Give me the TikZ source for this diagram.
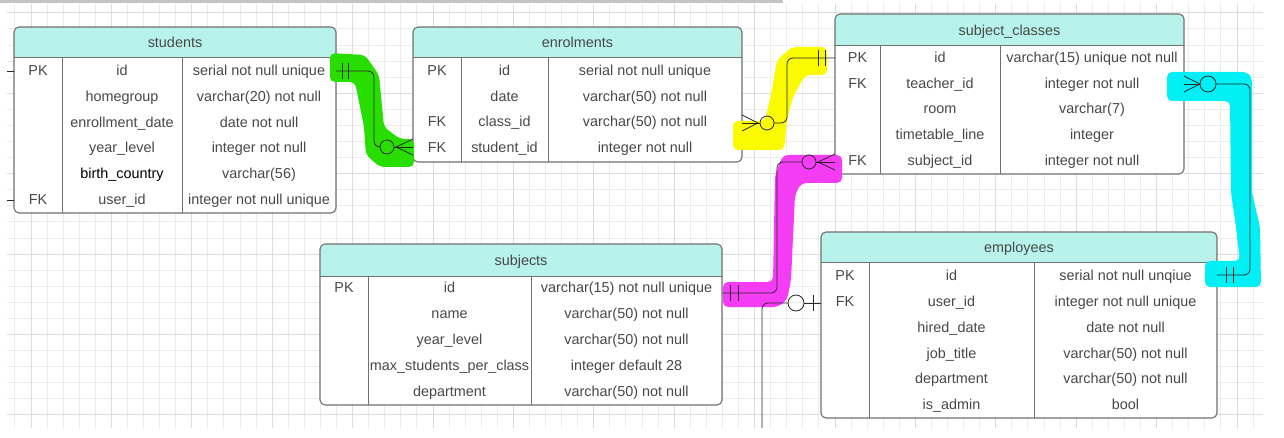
\documentclass[tikz,border=0pt]{standalone}
\usepackage{fontspec}
\setmainfont{Liberation Sans}
\definecolor{hdr}{RGB}{183,243,235}
\definecolor{bord}{RGB}{112,112,112}
\definecolor{txt}{RGB}{72,72,72}
\definecolor{gmin}{RGB}{236,236,236}
\definecolor{gmaj}{RGB}{220,220,220}
\definecolor{hlgreen}{RGB}{40,222,0}
\definecolor{hlyellow}{RGB}{250,250,0}
\definecolor{hlmag}{RGB}{245,60,245}
\definecolor{hlcyan}{RGB}{0,240,245}
\definecolor{conn}{RGB}{40,40,40}
\definecolor{topbar}{RGB}{196,196,196}
\tikzset{
  tbl/.style={draw=none, fill=white, inner sep=0pt, outer sep=0pt, anchor=north west},
  border/.style={draw=bord, line width=1.1pt, rounded corners=5pt},
  divider/.style={draw=bord, line width=1pt},
  cell/.style={inner sep=0pt, text height=10.3pt, text depth=0pt, text=txt, font=\fontsize{14.4}{17}\selectfont},
  link/.style={draw=conn, line width=0.8pt, rounded corners=6pt},
  tickmark/.style={draw=conn, line width=0.8pt},
  ring/.style={draw=conn, line width=0.8pt},
  hl/.style={rounded corners=5pt},
  gridminor/.style={draw=gmin, line width=0.8pt},
  gridmajor/.style={draw=gmaj, line width=0.8pt}
}
% #1 name, #2 left, #3 top, #4 right, #5 header bottom, #6 bottom, #7 col1, #8 col2, #9 title
\newcommand\ertable[9]{%
  \node[tbl, minimum width={(#4-#2)*1pt}, minimum height={(#6-#3)*1pt}] (#1) at (#2,#3) {};
  \begin{scope}
    \clip[rounded corners=5pt] (#2,#3) rectangle (#4,#6);
    \fill[hdr] (#2,#3) rectangle (#4,#5);
  \end{scope}
  \draw[divider] (#2,#5) -- (#4,#5);
  \draw[divider] (#7,#5) -- (#7,#6);
  \draw[divider] (#8,#5) -- (#8,#6);
  \draw[border] (#2,#3) rectangle (#4,#6);
  \node[cell] (#1-title) at ({(#2+#4)/2},{(#3+#5)/2}) {#9};
}
% #1 prefix, #2 key x, #3 name x, #4 type x, #5 y, #6 key, #7 name, #8 type
\newcommand\errow[8]{%
  \node[cell] (#1k) at (#2,#5) {#6};
  \node[cell] (#1n) at (#3,#5) {#7};
  \node[cell] (#1t) at (#4,#5) {#8};
}
\begin{document}
\begin{tikzpicture}[x=1pt,y=-1pt]
\useasboundingbox (0,0) rectangle (1284,438);
\fill[white] (0,0) rectangle (1284,438);
% grid
\begin{scope}
  \clip (7,4) rectangle (1263,428);
  \foreach \k in {-6,...,72} \draw[gridminor] ({111.3+16.08*\k},4) -- ({111.3+16.08*\k},428);
  \foreach \k in {-15,...,11} \draw[gridminor] (7,{254+16.08*\k}) -- (1263,{254+16.08*\k});
  \foreach \k in {-1,...,14} \draw[gridmajor] ({111.3+80.4*\k},4) -- ({111.3+80.4*\k},428);
  \foreach \k in {-3,...,2} \draw[gridmajor] (7,{254+80.4*\k}) -- (1263,{254+80.4*\k});
\end{scope}
\fill[topbar] (0,0) rectangle (783,3);

% tables
\ertable{students}{14}{27}{336}{58}{213}{62}{182}{students}
\errow{st1}{38}{122}{259}{70}{PK}{id}{serial not null unique}
\errow{st2}{38}{122}{259}{96.5}{}{homegroup}{varchar(20) not null}
\errow{st3}{38}{122}{259}{122}{}{enrollment\_date}{date not null}
\errow{st4}{38}{122}{259}{147.5}{}{year\_level}{integer not null}
\errow{st5}{38}{122}{259}{173}{}{\textcolor{black}{birth\_country}}{varchar(56)}
\errow{st6}{38}{122}{259}{199}{FK}{user\_id}{integer not null unique}

\ertable{enrolments}{413}{27}{742}{58}{162}{461}{548}{enrolments}
\errow{en1}{437}{504.5}{645}{70}{PK}{id}{serial not null unique}
\errow{en2}{437}{504.5}{645}{96}{}{date}{varchar(50) not null}
\errow{en3}{437}{504.5}{645}{121.5}{FK}{class\_id}{varchar(50) not null}
\errow{en4}{437}{504.5}{645}{147}{FK}{student\_id}{integer not null}

\ertable{subjclasses}{835}{14}{1184}{46}{174}{880}{1000}{subject\_classes}
\errow{sc1}{857.5}{940}{1092}{57}{PK}{id}{varchar(15) unique not null}
\errow{sc2}{857.5}{940}{1092}{83}{FK}{teacher\_id}{integer not null}
\errow{sc3}{857.5}{940}{1092}{108.5}{}{room}{varchar(7)}
\errow{sc4}{857.5}{940}{1092}{134}{}{timetable\_line}{integer}
\errow{sc5}{857.5}{940}{1092}{160}{FK}{subject\_id}{integer not null}

\ertable{subjects}{320}{244}{722}{276}{405}{368}{531}{subjects}
\errow{sj1}{344}{449.5}{626.5}{287}{PK}{id}{varchar(15) not null unique}
\errow{sj2}{344}{449.5}{626.5}{313}{}{name}{varchar(50) not null}
\errow{sj3}{344}{449.5}{626.5}{339}{}{year\_level}{varchar(50) not null}
\errow{sj4}{344}{449.5}{626.5}{365}{}{max\_students\_per\_class}{integer default 28}
\errow{sj5}{344}{449.5}{626.5}{391}{}{department}{varchar(50) not null}

\ertable{employees}{821}{232}{1217}{263}{418}{869}{1034}{employees}
\errow{em1}{845}{951.5}{1125.5}{275}{PK}{id}{serial not null unqiue}
\errow{em2}{845}{951.5}{1125.5}{301}{FK}{user\_id}{integer not null unique}
\errow{em3}{845}{951.5}{1125.5}{327}{}{hired\_date}{date not null}
\errow{em4}{845}{951.5}{1125.5}{353}{}{job\_title}{varchar(50) not null}
\errow{em5}{845}{951.5}{1125.5}{378.5}{}{department}{varchar(50) not null}
\errow{em6}{845}{951.5}{1125.5}{404}{}{is\_admin}{bool}

% highlighter strokes
\fill[hlgreen, hl] (330,53) -- (365,55) -- (379,75) -- (384,127) -- (400,139) -- (414,139)
  -- (414,167) -- (380,167) -- (366,155) -- (364,127) -- (355,82) -- (330,82) -- cycle;
\fill[hlyellow, hl] (733,121) -- (765,121) -- (771,95) -- (777,60) -- (792,47) -- (827,47)
  -- (827,75) -- (805,75) -- (793,97) -- (787,120) -- (784,150) -- (733,150) -- cycle;
\fill[hlmag, hl] (723,282) -- (773,282) -- (775,175) -- (783,155) -- (842,155) -- (842,183)
  -- (801,183) -- (795,195) -- (791,280) -- (787,300) -- (778,307) -- (723,307) -- cycle;
\fill[hlcyan, hl] (1167,72) -- (1247,72) -- (1252,78) -- (1252,193) -- (1260,227) -- (1261,287)
  -- (1205,287) -- (1205,261) -- (1240,261) -- (1236,227) -- (1231,193) -- (1230,101) -- (1167,101) -- cycle;

% connector: students.id -> enrolments.student_id
\draw[link] (students.east |- 0,71) -- (374,71) -- (374,147) -- (380,147);
\draw[tickmark] (342,63) -- (342,79);
\draw[tickmark] (348,63) -- (348,79);
\draw[ring] (387,147) circle[radius=7];
\draw[tickmark] (394,147) -- (enrolments.west |- 0,147);
\draw[tickmark] (396,147) -- (enrolments.west |- 0,139);
\draw[tickmark] (396,147) -- (enrolments.west |- 0,155);

% connector: enrolments.class_id -> subject_classes.id
\draw[tickmark] (enrolments.east |- 0,123) -- (760,123);
\draw[tickmark] (enrolments.east |- 0,115) -- (758,123);
\draw[tickmark] (enrolments.east |- 0,131) -- (758,123);
\draw[ring] (767,123) circle[radius=7];
\draw[link] (774,123) -- (787,123) -- (787,58) -- (subjclasses.west |- 0,58);
\draw[tickmark] (818,50) -- (818,66);
\draw[tickmark] (825,50) -- (825,66);

% connector: subjects.id -> subject_classes.subject_id
\draw[link] (subjects.east |- 0,293) -- (777,293) -- (777,162) -- (802,162);
\draw[tickmark] (730,285) -- (730,301);
\draw[tickmark] (738,285) -- (738,301);
\draw[ring] (809,162) circle[radius=7];
\draw[tickmark] (816,162) -- (subjclasses.west |- 0,162);
\draw[tickmark] (818,162) -- (subjclasses.west |- 0,154);
\draw[tickmark] (818,162) -- (subjclasses.west |- 0,170);

% connector: subject_classes.teacher_id -> employees.id
\draw[tickmark] (subjclasses.east |- 0,84) -- (1200,84);
\draw[tickmark] (subjclasses.east |- 0,76) -- (1200,84);
\draw[tickmark] (subjclasses.east |- 0,92) -- (1200,84);
\draw[ring] (1208,84) circle[radius=8];
\draw[link] (1216,84) -- (1250,84) -- (1250,275) -- (employees.east |- 0,275);
\draw[tickmark] (1226,267) -- (1226,283);
\draw[tickmark] (1233,267) -- (1233,283);

% connector: employees.user_id -> (off picture)
\coordinate (usersend) at (762,428);
\draw[tickmark] (employees.west |- 0,303) -- (804,303);
\draw[tickmark] (813,295) -- (813,311);
\draw[ring] (796,303) circle[radius=8];
\draw[link] (788,303) -- (762,303) -- (usersend);

% stubs on the left
\coordinate (offa) at (7,71);
\coordinate (offb) at (7,200);
\draw[tickmark] (offa) -- (students.west |- 0,71);
\draw[tickmark] (offb) -- (students.west |- 0,200);
\end{tikzpicture}
\end{document}
